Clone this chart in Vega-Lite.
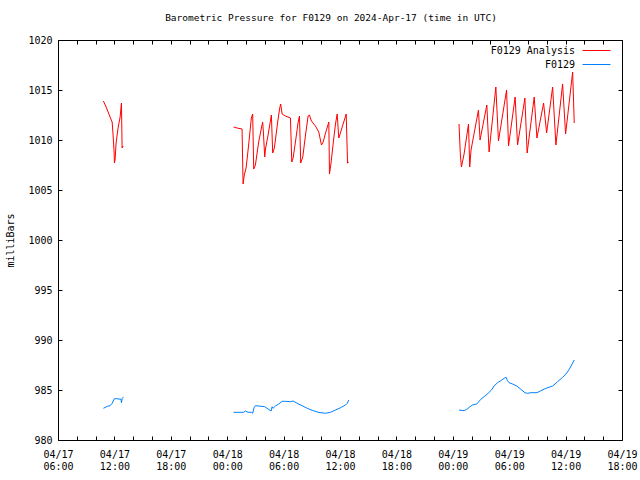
{
  "$schema": "https://vega.github.io/schema/vega-lite/v6.json",
  "width": 564,
  "height": 400,
  "autosize": {"type": "none"},
  "padding": {"left": 58, "top": 40, "right": 18, "bottom": 40},
  "background": "white",
  "title": {
    "text": "Barometric Pressure for F0129 on 2024-Apr-17 (time in UTC)",
    "font": "DejaVu Sans Mono",
    "fontSize": 9.5,
    "fontWeight": "normal",
    "color": "black",
    "anchor": "middle",
    "dx": -9,
    "offset": 13
  },
  "data": {
    "values": [
      {"series": "F0129 Analysis", "seg": "a1", "hour": 10.83, "mb": 1013.9},
      {"series": "F0129 Analysis", "seg": "a1", "hour": 11.12, "mb": 1013.3},
      {"series": "F0129 Analysis", "seg": "a1", "hour": 11.54, "mb": 1012.3},
      {"series": "F0129 Analysis", "seg": "a1", "hour": 11.76, "mb": 1011.8},
      {"series": "F0129 Analysis", "seg": "a1", "hour": 11.86, "mb": 1010.5},
      {"series": "F0129 Analysis", "seg": "a1", "hour": 11.97, "mb": 1008.8},
      {"series": "F0129 Analysis", "seg": "a1", "hour": 12.0, "mb": 1007.7},
      {"series": "F0129 Analysis", "seg": "a1", "hour": 12.08, "mb": 1008.1},
      {"series": "F0129 Analysis", "seg": "a1", "hour": 12.18, "mb": 1009.7},
      {"series": "F0129 Analysis", "seg": "a1", "hour": 12.39, "mb": 1011.2},
      {"series": "F0129 Analysis", "seg": "a1", "hour": 12.61, "mb": 1012.3},
      {"series": "F0129 Analysis", "seg": "a1", "hour": 12.75, "mb": 1013.7},
      {"series": "F0129 Analysis", "seg": "a1", "hour": 12.82, "mb": 1009.2},
      {"series": "F0129 Analysis", "seg": "a1", "hour": 12.93, "mb": 1009.4},
      {"series": "F0129 Analysis", "seg": "a2", "hour": 24.68, "mb": 1011.3},
      {"series": "F0129 Analysis", "seg": "a2", "hour": 25.05, "mb": 1011.2},
      {"series": "F0129 Analysis", "seg": "a2", "hour": 25.58, "mb": 1011.1},
      {"series": "F0129 Analysis", "seg": "a2", "hour": 25.69, "mb": 1005.6},
      {"series": "F0129 Analysis", "seg": "a2", "hour": 25.82, "mb": 1006.5},
      {"series": "F0129 Analysis", "seg": "a2", "hour": 26.01, "mb": 1007.2},
      {"series": "F0129 Analysis", "seg": "a2", "hour": 26.28, "mb": 1009.5},
      {"series": "F0129 Analysis", "seg": "a2", "hour": 26.57, "mb": 1012.2},
      {"series": "F0129 Analysis", "seg": "a2", "hour": 26.71, "mb": 1012.6},
      {"series": "F0129 Analysis", "seg": "a2", "hour": 26.82, "mb": 1007.1},
      {"series": "F0129 Analysis", "seg": "a2", "hour": 27.0, "mb": 1007.5},
      {"series": "F0129 Analysis", "seg": "a2", "hour": 27.35, "mb": 1009.8},
      {"series": "F0129 Analysis", "seg": "a2", "hour": 27.64, "mb": 1011.2},
      {"series": "F0129 Analysis", "seg": "a2", "hour": 27.77, "mb": 1011.8},
      {"series": "F0129 Analysis", "seg": "a2", "hour": 27.85, "mb": 1010.8},
      {"series": "F0129 Analysis", "seg": "a2", "hour": 27.99, "mb": 1008.3},
      {"series": "F0129 Analysis", "seg": "a2", "hour": 28.09, "mb": 1009.2},
      {"series": "F0129 Analysis", "seg": "a2", "hour": 28.35, "mb": 1010.5},
      {"series": "F0129 Analysis", "seg": "a2", "hour": 28.63, "mb": 1012.1},
      {"series": "F0129 Analysis", "seg": "a2", "hour": 28.7, "mb": 1012.5},
      {"series": "F0129 Analysis", "seg": "a2", "hour": 28.84, "mb": 1008.7},
      {"series": "F0129 Analysis", "seg": "a2", "hour": 29.02, "mb": 1009.2},
      {"series": "F0129 Analysis", "seg": "a2", "hour": 29.37, "mb": 1011.8},
      {"series": "F0129 Analysis", "seg": "a2", "hour": 29.59, "mb": 1013.2},
      {"series": "F0129 Analysis", "seg": "a2", "hour": 29.69, "mb": 1013.6},
      {"series": "F0129 Analysis", "seg": "a2", "hour": 29.84, "mb": 1012.6},
      {"series": "F0129 Analysis", "seg": "a2", "hour": 30.19, "mb": 1012.4},
      {"series": "F0129 Analysis", "seg": "a2", "hour": 30.73, "mb": 1012.2},
      {"series": "F0129 Analysis", "seg": "a2", "hour": 30.87, "mb": 1007.8},
      {"series": "F0129 Analysis", "seg": "a2", "hour": 31.01, "mb": 1008.2},
      {"series": "F0129 Analysis", "seg": "a2", "hour": 31.26, "mb": 1009.8},
      {"series": "F0129 Analysis", "seg": "a2", "hour": 31.55, "mb": 1011.8},
      {"series": "F0129 Analysis", "seg": "a2", "hour": 31.69, "mb": 1012.4},
      {"series": "F0129 Analysis", "seg": "a2", "hour": 31.82, "mb": 1007.7},
      {"series": "F0129 Analysis", "seg": "a2", "hour": 32.04, "mb": 1008.3},
      {"series": "F0129 Analysis", "seg": "a2", "hour": 32.33, "mb": 1010.5},
      {"series": "F0129 Analysis", "seg": "a2", "hour": 32.61, "mb": 1012.4},
      {"series": "F0129 Analysis", "seg": "a2", "hour": 32.75, "mb": 1012.5},
      {"series": "F0129 Analysis", "seg": "a2", "hour": 32.96, "mb": 1011.9},
      {"series": "F0129 Analysis", "seg": "a2", "hour": 33.39, "mb": 1011.4},
      {"series": "F0129 Analysis", "seg": "a2", "hour": 33.74, "mb": 1010.8},
      {"series": "F0129 Analysis", "seg": "a2", "hour": 34.03, "mb": 1009.5},
      {"series": "F0129 Analysis", "seg": "a2", "hour": 34.21, "mb": 1009.8},
      {"series": "F0129 Analysis", "seg": "a2", "hour": 34.46, "mb": 1010.7},
      {"series": "F0129 Analysis", "seg": "a2", "hour": 34.81, "mb": 1011.8},
      {"series": "F0129 Analysis", "seg": "a2", "hour": 34.88, "mb": 1006.6},
      {"series": "F0129 Analysis", "seg": "a2", "hour": 35.06, "mb": 1007.8},
      {"series": "F0129 Analysis", "seg": "a2", "hour": 35.28, "mb": 1009.7},
      {"series": "F0129 Analysis", "seg": "a2", "hour": 35.52, "mb": 1011.6},
      {"series": "F0129 Analysis", "seg": "a2", "hour": 35.7, "mb": 1012.6},
      {"series": "F0129 Analysis", "seg": "a2", "hour": 35.87, "mb": 1010.2},
      {"series": "F0129 Analysis", "seg": "a2", "hour": 35.98, "mb": 1010.5},
      {"series": "F0129 Analysis", "seg": "a2", "hour": 36.3, "mb": 1011.5},
      {"series": "F0129 Analysis", "seg": "a2", "hour": 36.66, "mb": 1012.6},
      {"series": "F0129 Analysis", "seg": "a2", "hour": 36.8, "mb": 1007.7},
      {"series": "F0129 Analysis", "seg": "a2", "hour": 36.94, "mb": 1007.8},
      {"series": "F0129 Analysis", "seg": "a3", "hour": 48.66, "mb": 1011.6},
      {"series": "F0129 Analysis", "seg": "a3", "hour": 48.81, "mb": 1008.4},
      {"series": "F0129 Analysis", "seg": "a3", "hour": 48.92, "mb": 1007.3},
      {"series": "F0129 Analysis", "seg": "a3", "hour": 49.2, "mb": 1008.6},
      {"series": "F0129 Analysis", "seg": "a3", "hour": 49.67, "mb": 1011.6},
      {"series": "F0129 Analysis", "seg": "a3", "hour": 49.8, "mb": 1007.3},
      {"series": "F0129 Analysis", "seg": "a3", "hour": 49.94, "mb": 1009.0},
      {"series": "F0129 Analysis", "seg": "a3", "hour": 50.73, "mb": 1013.0},
      {"series": "F0129 Analysis", "seg": "a3", "hour": 50.9, "mb": 1010.0},
      {"series": "F0129 Analysis", "seg": "a3", "hour": 51.62, "mb": 1013.5},
      {"series": "F0129 Analysis", "seg": "a3", "hour": 51.86, "mb": 1008.8},
      {"series": "F0129 Analysis", "seg": "a3", "hour": 52.58, "mb": 1015.3},
      {"series": "F0129 Analysis", "seg": "a3", "hour": 52.86, "mb": 1009.9},
      {"series": "F0129 Analysis", "seg": "a3", "hour": 53.72, "mb": 1015.0},
      {"series": "F0129 Analysis", "seg": "a3", "hour": 53.93, "mb": 1009.4},
      {"series": "F0129 Analysis", "seg": "a3", "hour": 54.63, "mb": 1014.3},
      {"series": "F0129 Analysis", "seg": "a3", "hour": 54.89, "mb": 1009.5},
      {"series": "F0129 Analysis", "seg": "a3", "hour": 55.67, "mb": 1014.2},
      {"series": "F0129 Analysis", "seg": "a3", "hour": 55.91, "mb": 1008.7},
      {"series": "F0129 Analysis", "seg": "a3", "hour": 56.66, "mb": 1014.3},
      {"series": "F0129 Analysis", "seg": "a3", "hour": 56.95, "mb": 1010.2},
      {"series": "F0129 Analysis", "seg": "a3", "hour": 57.66, "mb": 1013.7},
      {"series": "F0129 Analysis", "seg": "a3", "hour": 57.98, "mb": 1010.7},
      {"series": "F0129 Analysis", "seg": "a3", "hour": 58.62, "mb": 1015.3},
      {"series": "F0129 Analysis", "seg": "a3", "hour": 58.97, "mb": 1009.5},
      {"series": "F0129 Analysis", "seg": "a3", "hour": 59.68, "mb": 1015.6},
      {"series": "F0129 Analysis", "seg": "a3", "hour": 60.0, "mb": 1010.6},
      {"series": "F0129 Analysis", "seg": "a3", "hour": 60.75, "mb": 1016.8},
      {"series": "F0129 Analysis", "seg": "a3", "hour": 60.92, "mb": 1011.7},
      {"series": "F0129", "seg": "b1", "hour": 10.83, "mb": 983.17},
      {"series": "F0129", "seg": "b1", "hour": 11.25, "mb": 983.37},
      {"series": "F0129", "seg": "b1", "hour": 11.54, "mb": 983.43},
      {"series": "F0129", "seg": "b1", "hour": 11.76, "mb": 983.67},
      {"series": "F0129", "seg": "b1", "hour": 12.0, "mb": 984.13},
      {"series": "F0129", "seg": "b1", "hour": 12.26, "mb": 984.13},
      {"series": "F0129", "seg": "b1", "hour": 12.71, "mb": 984.07},
      {"series": "F0129", "seg": "b1", "hour": 12.75, "mb": 983.73},
      {"series": "F0129", "seg": "b1", "hour": 12.82, "mb": 984.13},
      {"series": "F0129", "seg": "b1", "hour": 12.96, "mb": 984.3},
      {"series": "F0129", "seg": "b2", "hour": 24.68, "mb": 982.77},
      {"series": "F0129", "seg": "b2", "hour": 25.75, "mb": 982.77},
      {"series": "F0129", "seg": "b2", "hour": 25.93, "mb": 982.9},
      {"series": "F0129", "seg": "b2", "hour": 26.22, "mb": 982.77},
      {"series": "F0129", "seg": "b2", "hour": 26.57, "mb": 982.77},
      {"series": "F0129", "seg": "b2", "hour": 26.71, "mb": 982.67},
      {"series": "F0129", "seg": "b2", "hour": 26.86, "mb": 983.23},
      {"series": "F0129", "seg": "b2", "hour": 27.0, "mb": 983.43},
      {"series": "F0129", "seg": "b2", "hour": 27.35, "mb": 983.4},
      {"series": "F0129", "seg": "b2", "hour": 27.99, "mb": 983.33},
      {"series": "F0129", "seg": "b2", "hour": 28.35, "mb": 983.1},
      {"series": "F0129", "seg": "b2", "hour": 28.67, "mb": 982.9},
      {"series": "F0129", "seg": "b2", "hour": 28.78, "mb": 983.33},
      {"series": "F0129", "seg": "b2", "hour": 28.88, "mb": 983.17},
      {"series": "F0129", "seg": "b2", "hour": 29.13, "mb": 983.4},
      {"series": "F0129", "seg": "b2", "hour": 29.48, "mb": 983.6},
      {"series": "F0129", "seg": "b2", "hour": 29.84, "mb": 983.87},
      {"series": "F0129", "seg": "b2", "hour": 30.19, "mb": 983.87},
      {"series": "F0129", "seg": "b2", "hour": 30.73, "mb": 983.83},
      {"series": "F0129", "seg": "b2", "hour": 31.01, "mb": 983.9},
      {"series": "F0129", "seg": "b2", "hour": 31.44, "mb": 983.67},
      {"series": "F0129", "seg": "b2", "hour": 31.97, "mb": 983.43},
      {"series": "F0129", "seg": "b2", "hour": 32.51, "mb": 983.17},
      {"series": "F0129", "seg": "b2", "hour": 33.04, "mb": 982.97},
      {"series": "F0129", "seg": "b2", "hour": 33.68, "mb": 982.77},
      {"series": "F0129", "seg": "b2", "hour": 34.46, "mb": 982.67},
      {"series": "F0129", "seg": "b2", "hour": 34.99, "mb": 982.77},
      {"series": "F0129", "seg": "b2", "hour": 35.52, "mb": 983.0},
      {"series": "F0129", "seg": "b2", "hour": 36.06, "mb": 983.23},
      {"series": "F0129", "seg": "b2", "hour": 36.59, "mb": 983.5},
      {"series": "F0129", "seg": "b2", "hour": 36.77, "mb": 983.67},
      {"series": "F0129", "seg": "b2", "hour": 36.94, "mb": 984.0},
      {"series": "F0129", "seg": "b3", "hour": 48.66, "mb": 983.0},
      {"series": "F0129", "seg": "b3", "hour": 49.2, "mb": 982.93},
      {"series": "F0129", "seg": "b3", "hour": 49.48, "mb": 983.07},
      {"series": "F0129", "seg": "b3", "hour": 49.84, "mb": 983.33},
      {"series": "F0129", "seg": "b3", "hour": 50.09, "mb": 983.5},
      {"series": "F0129", "seg": "b3", "hour": 50.55, "mb": 983.6},
      {"series": "F0129", "seg": "b3", "hour": 50.98, "mb": 984.07},
      {"series": "F0129", "seg": "b3", "hour": 51.33, "mb": 984.33},
      {"series": "F0129", "seg": "b3", "hour": 51.76, "mb": 984.67},
      {"series": "F0129", "seg": "b3", "hour": 52.12, "mb": 985.0},
      {"series": "F0129", "seg": "b3", "hour": 52.39, "mb": 985.4},
      {"series": "F0129", "seg": "b3", "hour": 52.76, "mb": 985.73},
      {"series": "F0129", "seg": "b3", "hour": 53.11, "mb": 985.93},
      {"series": "F0129", "seg": "b3", "hour": 53.46, "mb": 986.17},
      {"series": "F0129", "seg": "b3", "hour": 53.67, "mb": 986.27},
      {"series": "F0129", "seg": "b3", "hour": 53.82, "mb": 985.93},
      {"series": "F0129", "seg": "b3", "hour": 53.99, "mb": 985.73},
      {"series": "F0129", "seg": "b3", "hour": 54.36, "mb": 985.6},
      {"series": "F0129", "seg": "b3", "hour": 54.81, "mb": 985.4},
      {"series": "F0129", "seg": "b3", "hour": 55.24, "mb": 985.07},
      {"series": "F0129", "seg": "b3", "hour": 55.67, "mb": 984.73},
      {"series": "F0129", "seg": "b3", "hour": 55.95, "mb": 984.67},
      {"series": "F0129", "seg": "b3", "hour": 56.31, "mb": 984.73},
      {"series": "F0129", "seg": "b3", "hour": 56.95, "mb": 984.73},
      {"series": "F0129", "seg": "b3", "hour": 57.37, "mb": 984.93},
      {"series": "F0129", "seg": "b3", "hour": 57.9, "mb": 985.17},
      {"series": "F0129", "seg": "b3", "hour": 58.62, "mb": 985.4},
      {"series": "F0129", "seg": "b3", "hour": 59.15, "mb": 985.83},
      {"series": "F0129", "seg": "b3", "hour": 59.68, "mb": 986.27},
      {"series": "F0129", "seg": "b3", "hour": 60.04, "mb": 986.6},
      {"series": "F0129", "seg": "b3", "hour": 60.39, "mb": 987.07},
      {"series": "F0129", "seg": "b3", "hour": 60.64, "mb": 987.5},
      {"series": "F0129", "seg": "b3", "hour": 60.92, "mb": 988.0}
    ]
  },
  "layer": [
    {
      "mark": {"type": "line", "strokeWidth": 1, "interpolate": "linear"},
      "encoding": {
        "x": {
          "field": "hour",
          "type": "quantitative",
          "scale": {"domain": [6, 66], "nice": false, "zero": false},
          "axis": {
            "orient": "bottom",
            "title": null,
            "values": [6, 8, 10, 12, 14, 16, 18, 20, 22, 24, 26, 28, 30, 32, 34, 36, 38, 40, 42, 44, 46, 48, 50, 52, 54, 56, 58, 60, 62, 64, 66],
            "labelExpr": "datum.value % 6 == 0 ? ['04/' + (17 + floor(datum.value / 24)), (datum.value % 24 < 10 ? '0' : '') + (datum.value % 24) + ':00'] : ''",
            "tickSize": -4,
            "labelPadding": 13,
            "labelBaseline": "top",
            "labelLineHeight": 12,
            "labelOverlap": false,
            "labelFlush": false
          }
        },
        "y": {
          "field": "mb",
          "type": "quantitative",
          "scale": {"domain": [980, 1020], "nice": false, "zero": false},
          "axis": {
            "orient": "left",
            "title": "milliBars",
            "format": "d",
            "values": [980, 985, 990, 995, 1000, 1005, 1010, 1015, 1020],
            "tickSize": -4,
            "labelPadding": 10,
            "labelBaseline": "middle",
            "labelFlush": false,
            "labelOverlap": false,
            "titleX": -48,
            "titleY": 200,
            "titleAngle": -90,
            "titleAlign": "center",
            "titleBaseline": "middle"
          }
        },
        "color": {
          "field": "series",
          "type": "nominal",
          "scale": {"domain": ["F0129 Analysis", "F0129"], "range": ["#ff0000", "#0080ff"]},
          "legend": {
            "title": null,
            "orient": "none",
            "legendX": 533,
            "legendY": 5,
            "padding": 0,
            "symbolType": "M-3,0L3,0",
            "symbolSize": 87,
            "symbolStrokeWidth": 1,
            "labelAlign": "right",
            "labelOffset": -27,
            "rowPadding": 3,
            "labelFont": "DejaVu Sans Mono",
            "labelFontSize": 10,
            "labelColor": "black"
          }
        },
        "detail": {"field": "seg", "type": "nominal"}
      }
    },
    {
      "mark": {"type": "point", "opacity": 0},
      "encoding": {
        "x": {
          "field": "hour",
          "type": "quantitative",
          "axis": {
            "orient": "top",
            "title": null,
            "labels": false,
            "values": [6, 8, 10, 12, 14, 16, 18, 20, 22, 24, 26, 28, 30, 32, 34, 36, 38, 40, 42, 44, 46, 48, 50, 52, 54, 56, 58, 60, 62, 64, 66],
            "tickSize": -4
          }
        },
        "y": {
          "field": "mb",
          "type": "quantitative",
          "axis": {
            "orient": "right",
            "title": null,
            "labels": false,
            "values": [980, 985, 990, 995, 1000, 1005, 1010, 1015, 1020],
            "tickSize": -4
          }
        }
      }
    }
  ],
  "config": {
    "view": {"stroke": "black", "strokeWidth": 1},
    "axis": {
      "domain": false,
      "grid": false,
      "ticks": true,
      "tickColor": "black",
      "tickWidth": 1,
      "labelFont": "DejaVu Sans Mono",
      "labelFontSize": 10,
      "labelColor": "black",
      "titleFont": "DejaVu Sans Mono",
      "titleFontSize": 10,
      "titleFontWeight": "normal",
      "titleColor": "black"
    }
  }
}
